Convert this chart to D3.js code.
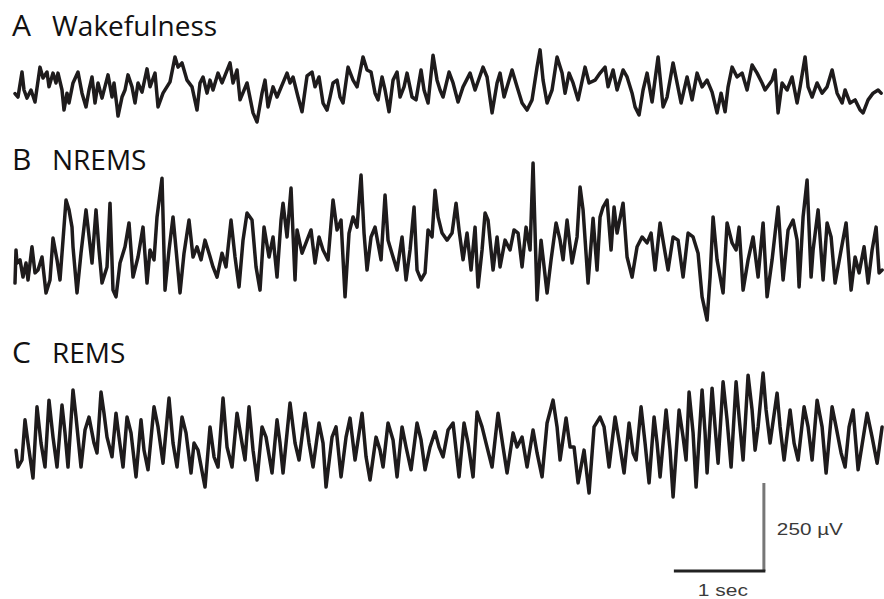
<!DOCTYPE html>
<html>
<head>
<meta charset="utf-8">
<script src="https://cdn.jsdelivr.net/npm/d3@7"></script>
<style>
  body { margin: 0; background: #fff; }
  svg { display: block; }
</style>
</head>
<body>
<script>
// EEG traces. Samples at 90 Hz (index), amplitude in µV.
const SAMPLE_RATE = 90;
const DURATION = 9.61; // sec shown

const stageLetters = ["A", "B", "C"];
const stageNames = ["Wakefulness", "NREMS", "REMS"];

const wake = [[0,-10],[3,-20],[7,51],[9,0],[12,-23],[16,0],[20,-34],[25,65],[28,34],[32,51],[34,9],[38,48],[41,20],[43,48],[47,0],[49,-57],[52,-9],[54,-37],[58,20],[63,51],[67,-9],[71,-48],[74,0],[77,37],[80,-37],[83,20],[87,-23],[93,43],[97,-20],[99,20],[102,-48],[103,-74],[107,-20],[110,0],[113,43],[117,9],[120,-37],[123,20],[127,-6],[132,60],[135,9],[140,48],[143,-48],[148,-9],[155,23],[160,94],[163,65],[167,77],[172,28],[177,9],[182,-57],[185,20],[188,37],[192,-9],[195,28],[198,0],[203,48],[207,20],[215,77],[218,20],[222,57],[225,-28],[232,20],[238,-65],[242,-91],[247,-9],[250,28],[253,-48],[258,9],[262,-20],[272,48],[275,20],[278,37],[283,-20],[287,-62],[292,40],[297,51],[300,9],[304,37],[308,-37],[312,-57],[315,-20],[318,20],[322,28],[325,-20],[328,-37],[333,65],[338,28],[342,9],[348,94],[352,57],[356,51],[360,-9],[363,-28],[367,37],[370,0],[374,-62],[378,28],[382,51],[385,-20],[389,9],[392,48],[397,-20],[401,-28],[406,57],[409,0],[413,-37],[418,99],[422,28],[425,0],[428,-20],[434,51],[438,20],[443,-34],[448,9],[455,48],[460,0],[468,65],[472,37],[477,-65],[482,20],[485,48],[489,-20],[497,57],[502,9],[507,-37],[512,-57],[517,-28],[522,65],[525,114],[528,28],[532,-37],[537,0],[542,94],[547,48],[550,-9],[554,48],[558,20],[563,-28],[570,65],[574,20],[580,28],[585,48],[590,65],[593,9],[598,57],[602,0],[608,57],[612,37],[617,-9],[620,-48],[624,-71],[628,0],[632,48],[637,-34],[643,94],[648,-48],[652,-20],[658,77],[662,20],[666,-37],[672,37],[677,-28],[682,48],[687,9],[692,28],[697,-6],[702,-65],[706,-9],[710,-62],[713,9],[717,65],[722,37],[727,48],[732,0],[737,71],[742,48],[747,20],[750,0],[757,28],[760,57],[763,-65],[767,20],[772,0],[777,37],[782,-37],[785,9],[790,94],[793,9],[797,-20],[802,20],[807,-9],[812,9],[817,57],[822,-9],[827,-37],[830,0],[835,-37],[840,-28],[845,-57],[848,-65],[853,-28],[858,-9],[863,0],[866,-9]];

const nrems = [[0,-94],[1,0],[2,-37],[5,-28],[8,-77],[11,-37],[13,-85],[17,9],[20,-65],[23,-57],[27,-20],[31,-122],[35,-85],[38,34],[42,-28],[45,-85],[48,28],[51,142],[54,114],[57,65],[58,9],[62,-122],[66,-9],[71,114],[73,65],[77,-37],[81,114],[84,0],[87,-94],[92,-48],[95,133],[98,-114],[101,-133],[105,-37],[110,9],[114,77],[118,-77],[123,-20],[128,65],[132,-94],[135,0],[139,-28],[142,94],[147,204],[150,-114],[154,0],[158,94],[162,-28],[165,-122],[169,-9],[174,85],[178,-20],[182,9],[186,-28],[190,28],[194,-9],[198,-48],[202,-77],[207,-9],[211,-48],[216,85],[220,-20],[224,-105],[228,28],[232,105],[237,85],[241,-48],[245,-114],[249,65],[254,-20],[258,37],[262,-77],[266,85],[268,133],[272,37],[276,176],[280,-85],[282,57],[287,-9],[292,28],[296,57],[300,-37],[304,37],[308,0],[313,-28],[318,142],[322,57],[326,85],[330,-133],[334,48],[338,94],[342,65],[346,213],[349,48],[352,-57],[356,37],[360,65],[366,-28],[370,156],[373,28],[378,-20],[382,-57],[387,37],[391,-85],[395,0],[399,122],[402,-57],[406,-85],[410,-65],[413,57],[417,37],[420,170],[423,94],[427,48],[432,28],[437,48],[441,133],[444,57],[448,-28],[452,48],[456,-57],[460,65],[463,-105],[467,0],[470,105],[473,85],[478,-57],[482,37],[485,-48],[490,28],[495,0],[499,57],[503,48],[507,-48],[511,65],[515,0],[518,247],[522,-142],[526,28],[532,-122],[536,-28],[541,77],[545,28],[548,-28],[552,85],[557,-37],[562,37],[565,179],[568,114],[573,-94],[578,90],[582,-57],[585,94],[588,122],[592,142],[596,0],[599,122],[602,48],[608,133],[612,-20],[617,-77],[622,9],[627,37],[632,20],[636,48],[640,-57],[645,77],[649,9],[653,-57],[658,37],[663,28],[668,-77],[673,48],[678,37],[683,-9],[687,-133],[692,-199],[695,-77],[698,94],[702,-28],[708,-122],[712,77],[717,20],[721,0],[724,65],[728,-114],[733,-28],[738,37],[743,-77],[748,77],[752,-133],[757,-28],[760,48],[763,122],[768,-85],[773,57],[778,85],[782,28],[784,-105],[788,94],[792,199],[796,-77],[798,0],[803,114],[808,-85],[812,77],[816,37],[820,-94],[826,0],[831,77],[836,-114],[840,-20],[844,-65],[849,9],[853,-94],[857,0],[861,65],[864,-65],[867,-57]];

const rems = [[1,-43],[3,-91],[7,-71],[10,43],[13,-23],[18,-122],[22,80],[26,-23],[30,-91],[34,99],[38,-6],[42,-91],[47,85],[50,6],[53,-91],[58,128],[61,51],[66,-91],[70,14],[74,51],[79,-23],[82,-51],[86,122],[89,62],[92,-6],[97,-62],[101,62],[104,-6],[108,-91],[112,51],[116,6],[121,-119],[126,43],[129,-43],[133,-99],[139,80],[143,23],[148,-80],[154,105],[158,-23],[162,-91],[167,51],[171,6],[176,-108],[179,-23],[183,-43],[190,-148],[195,23],[199,-62],[203,-91],[208,105],[212,-34],[217,-91],[222,62],[227,-23],[230,-71],[234,80],[238,-43],[242,-128],[247,23],[251,-6],[257,-108],[262,43],[265,-23],[268,-108],[275,91],[280,-23],[284,-71],[290,62],[294,-23],[298,-91],[304,34],[308,-23],[311,-148],[317,-6],[321,23],[326,-119],[331,-6],[335,48],[340,-71],[347,62],[351,-62],[355,-128],[361,-6],[365,-43],[368,-91],[373,34],[378,-14],[382,-119],[387,23],[391,-34],[396,-99],[402,34],[406,-14],[410,-99],[415,-34],[420,9],[424,-34],[428,-62],[433,14],[438,34],[444,-119],[449,34],[453,-23],[458,-119],[462,65],[467,23],[471,-23],[477,-91],[483,62],[488,-34],[492,-108],[498,6],[502,-34],[507,-6],[512,-91],[518,14],[522,-51],[527,-119],[532,34],[538,99],[542,23],[545,-71],[551,48],[555,-34],[559,-34],[563,-136],[569,-43],[574,-165],[579,23],[585,51],[589,23],[594,-91],[600,51],[605,-34],[609,-108],[614,34],[618,-51],[621,-71],[626,80],[630,-23],[634,-136],[639,51],[642,-23],[645,-119],[651,71],[655,-43],[658,-176],[664,71],[668,-6],[671,-71],[674,122],[678,6],[681,-148],[687,128],[690,6],[692,-108],[697,133],[700,23],[703,-80],[708,151],[712,43],[716,-91],[721,151],[724,51],[728,-71],[733,170],[737,71],[740,-43],[743,23],[748,176],[751,71],[755,-23],[762,119],[765,23],[769,-71],[775,71],[779,-23],[783,-71],[789,80],[793,23],[797,-71],[802,99],[807,23],[811,-108],[817,80],[821,23],[826,-51],[830,-91],[834,23],[838,71],[843,-99],[852,62],[857,-6],[862,-80],[867,23]];

const traces = [wake, nrems, rems];

// calibration bar
const barSec = 1;
const barUV = 250;
const barLabels = ["250 µV", "1 sec"];

const W = 884, H = 599;
const svg = d3.select("body").append("svg")
    .attr("width", W)
    .attr("height", H);

const x = d3.scaleLinear().domain([0, DURATION]).range([15, 880]);
// 250 µV spans 88 px
const amp = d3.scaleLinear().domain([0, 250]).range([0, 88]);

const centers = [90, 250, 435];
const labelY = [36, 170, 363];

const line = d3.line()
    .x(d => x(d[0] / SAMPLE_RATE));

traces.forEach((data, k) => {
    const y = v => centers[k] - amp(v);
    svg.append("path")
        .datum(data)
        .attr("d", line.y(d => y(d[1])))
        .attr("fill", "none")
        .attr("stroke", "#1e1b1c")
        .attr("stroke-width", 3.5)
        .attr("stroke-linejoin", "round")
        .attr("stroke-linecap", "round");

    svg.append("text")
        .attr("x", 12)
        .attr("y", labelY[k])
        .attr("font-family", "Open Sans")
        .attr("font-size", 30)
        .attr("fill", "#111")
        .text(stageLetters[k]);

    svg.append("text")
        .attr("x", 52)
        .attr("y", labelY[k])
        .attr("font-family", "Open Sans")
        .attr("font-size", 28)
        .attr("fill", "#111")
        .text(stageNames[k]);
});

// scale bar, lower right
const barEnd = 8.32;
const barBottom = 571;
const g = svg.append("g");
g.append("line")
    .attr("x1", x(barEnd)).attr("x2", x(barEnd))
    .attr("y1", barBottom).attr("y2", barBottom - amp(barUV))
    .attr("stroke", "#777")
    .attr("stroke-width", 3);
g.append("line")
    .attr("x1", x(barEnd - barSec)).attr("x2", x(barEnd) + 1.5)
    .attr("y1", barBottom).attr("y2", barBottom)
    .attr("stroke", "#222")
    .attr("stroke-width", 3);
g.append("text")
    .attr("x", x(barEnd) + 13)
    .attr("y", barBottom - amp(barUV) / 2 + 8)
    .attr("font-family", "Liberation Sans, Arial, sans-serif")
    .attr("font-size", 17)
    .attr("textLength", 66)
    .attr("lengthAdjust", "spacingAndGlyphs")
    .attr("fill", "#3a3a3a")
    .text(barLabels[0]);
g.append("text")
    .attr("x", x(barEnd - barSec) + 24)
    .attr("y", 596)
    .attr("font-family", "Liberation Sans, Arial, sans-serif")
    .attr("font-size", 16)
    .attr("textLength", 50)
    .attr("lengthAdjust", "spacingAndGlyphs")
    .attr("fill", "#3a3a3a")
    .text(barLabels[1]);
</script>
</body>
</html>
